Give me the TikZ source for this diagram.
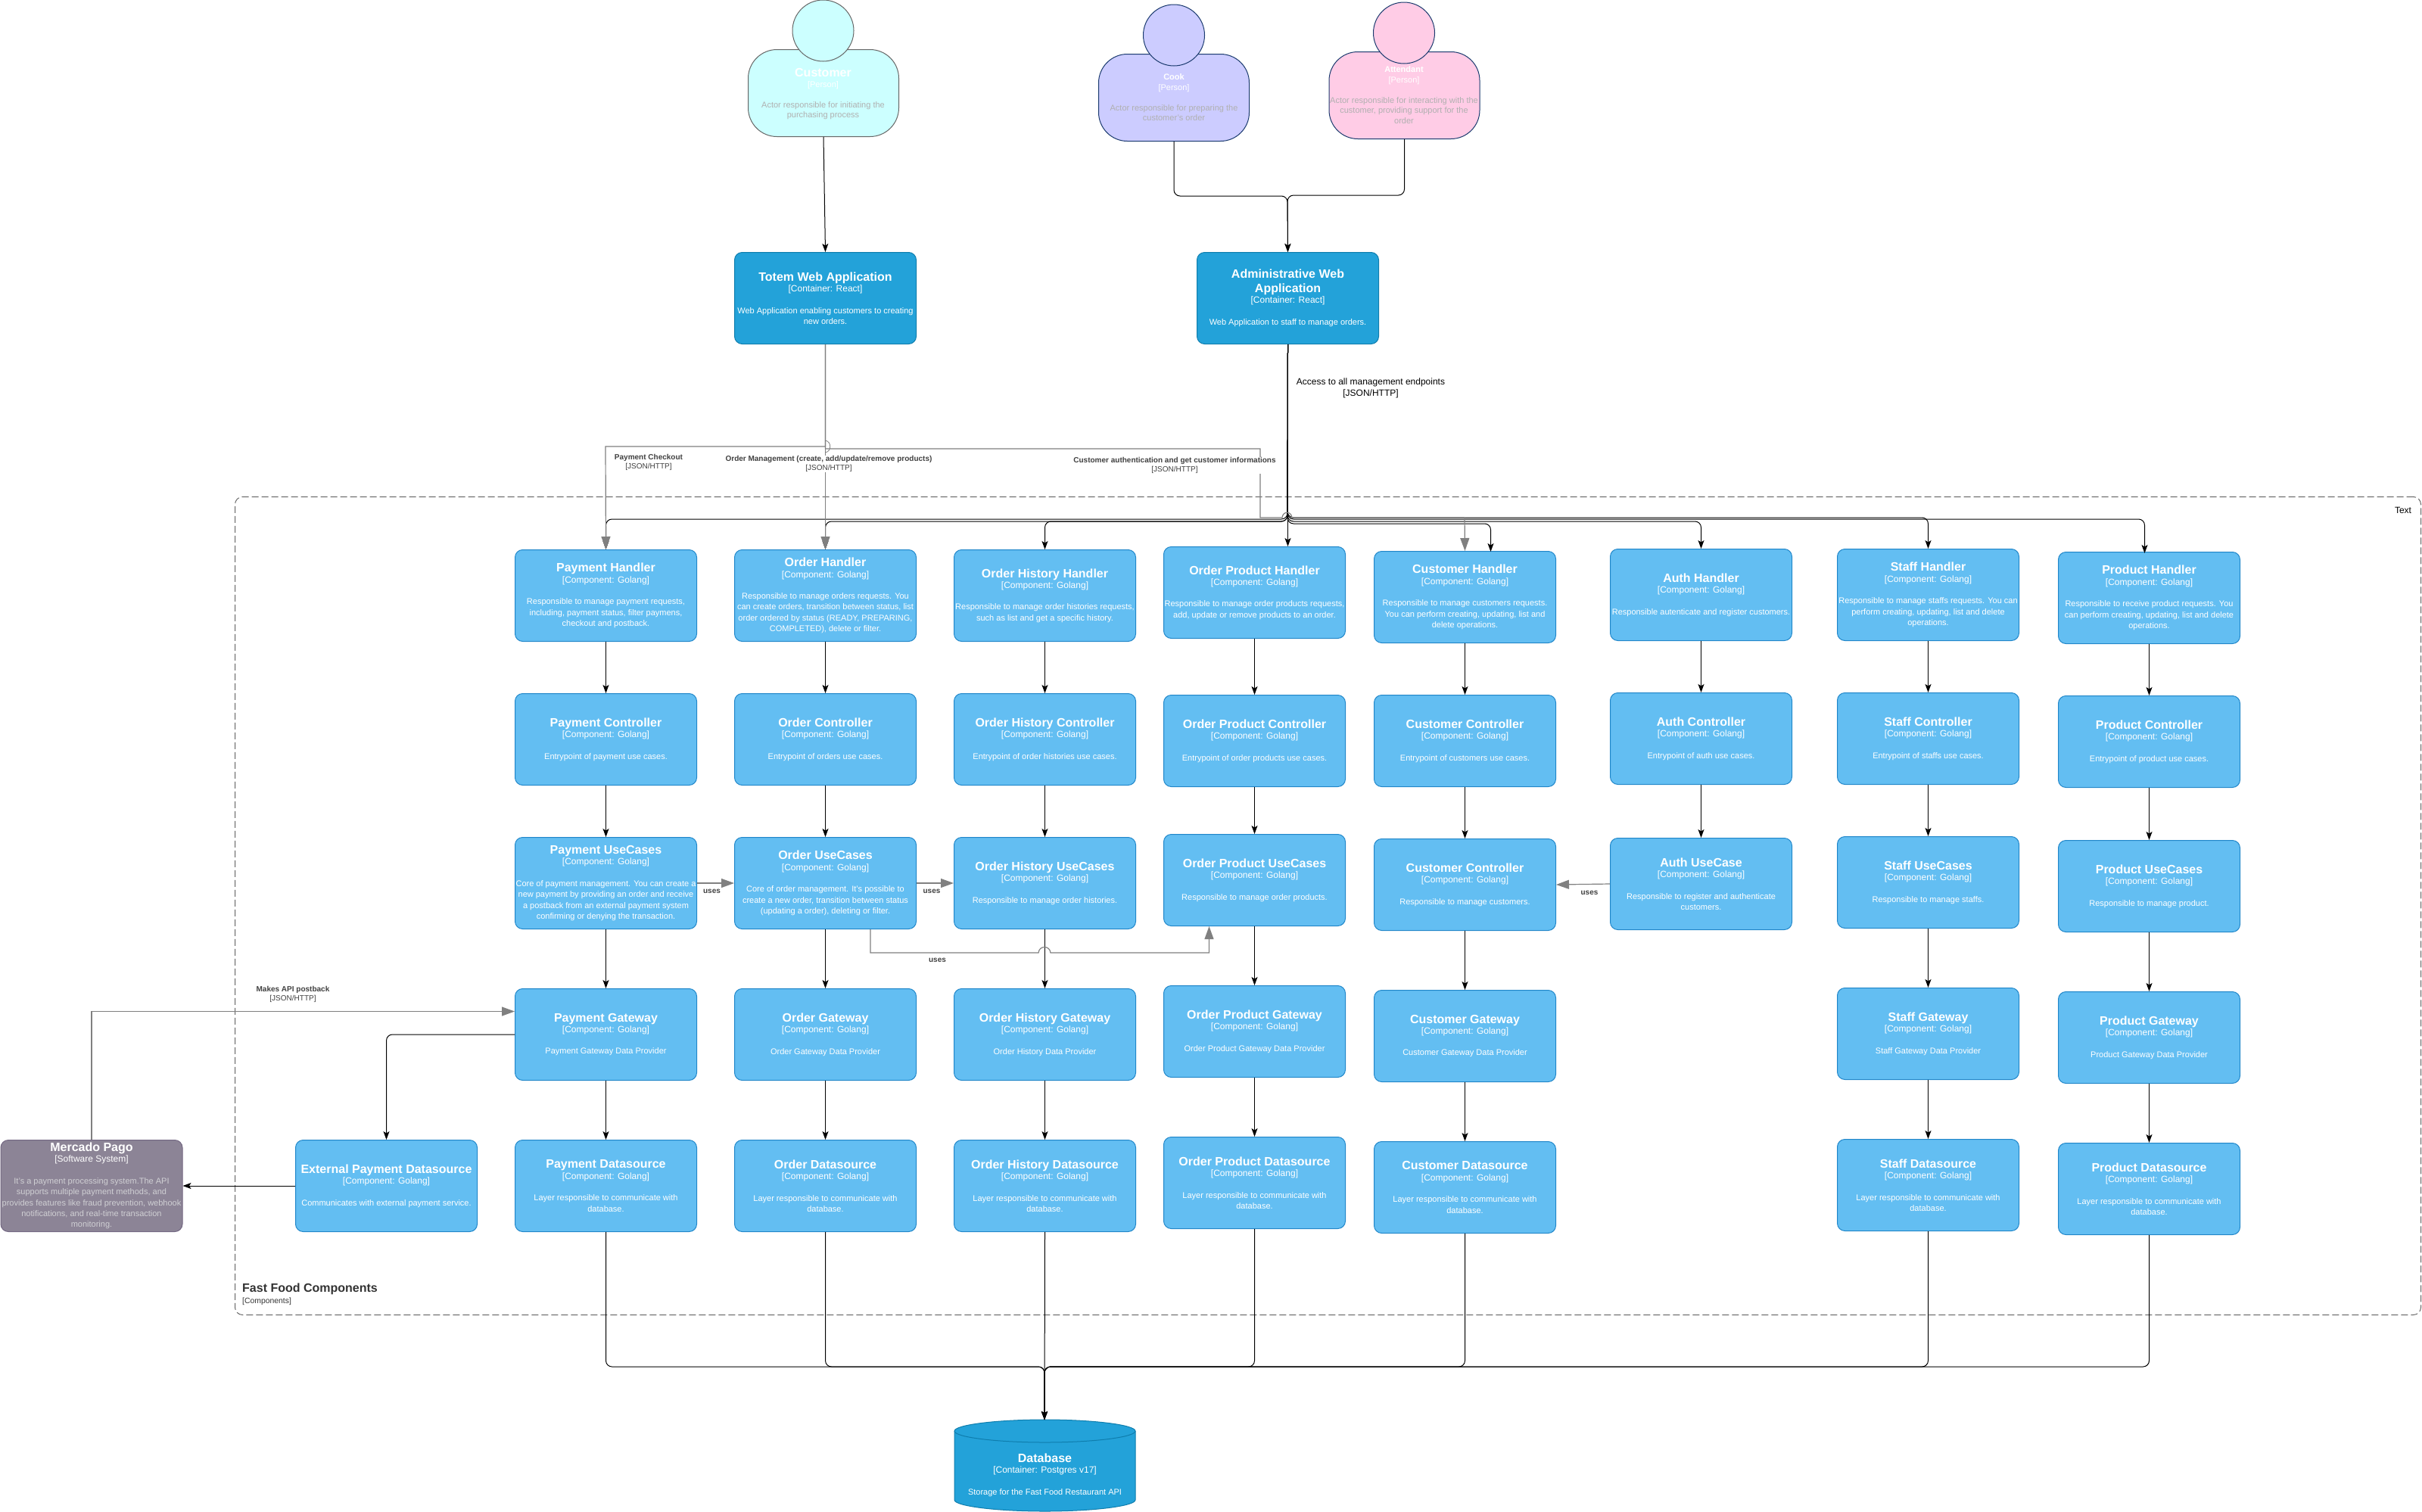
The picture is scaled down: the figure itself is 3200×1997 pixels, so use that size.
\documentclass[tikz,border=0pt]{standalone}
\usepackage{fontspec}
\setmainfont{Liberation Sans}
\usetikzlibrary{arrows.meta,calc}
\definecolor{compfill}{HTML}{63BEF2}
\definecolor{compline}{HTML}{2086C9}
\definecolor{contfill}{HTML}{23A2D9}
\definecolor{contline}{HTML}{0E7DAD}
\definecolor{extfill}{HTML}{8C8496}
\definecolor{extline}{HTML}{736782}
\definecolor{greyline}{HTML}{808080}
\definecolor{frameline}{HTML}{666666}
\definecolor{custfill}{HTML}{CCFFFF}
\definecolor{cookfill}{HTML}{CCCCFF}
\definecolor{attfill}{HTML}{FFCCE6}
\definecolor{navyline}{HTML}{1A3A6E}
\definecolor{persontext}{HTML}{B0B0B0}
\definecolor{labeltext}{HTML}{404040}
\definecolor{extbody}{HTML}{D0D0D4}
\newcommand{\cblock}[3]{\makebox[240pt]{\parbox{290pt}{\centering
  {\fontsize{16}{18.5}\selectfont\bfseries #1\par}%
  {\fontsize{12}{14.3}\selectfont #2\par}%
  \vspace{14.3pt}%
  {\fontsize{11}{14.3}\selectfont #3\par}}}}
\newcommand{\comp}[5]{\node[compbox] (#1) at (#2,#3) {\cblock{#4}{[Component: Golang]}{#5}};}
\newcommand{\plabel}[3]{\parbox{230pt}{\centering
  {\fontsize{#1}{15}\selectfont\bfseries #2\par}%
  {\fontsize{#3}{14}\selectfont [Person]\par}}}
\newcommand{\elabel}[2]{\textbf{#1}\\{}#2}
\tikzset{
  basebox/.style={rounded corners=10pt,line width=1pt,minimum width=240pt,minimum height=121pt,inner sep=0pt,anchor=north west,text=white},
  compbox/.style={basebox,draw=compline,fill=compfill},
  contbox/.style={basebox,draw=contline,fill=contfill},
  extbox/.style={basebox,draw=extline,fill=extfill},
  persbody/.style={rounded corners=38pt,line width=1pt,minimum width=199pt,minimum height=115pt,inner sep=0pt,anchor=north west},
  pershead/.style={circle,line width=1pt,minimum size=81pt,inner sep=0pt},
  conn/.style={draw=black,line width=1pt,-{Stealth[length=11pt,width=8pt,inset=2.5pt]}},
  gconn/.style={draw=greyline,line width=1.2pt,-{Triangle[length=17pt,width=12pt]}},
  gline/.style={draw=greyline,line width=1.2pt},
  elab/.style={fill=white,inner sep=1pt,align=center,text=labeltext,font=\fontsize{10}{11.5}\selectfont},
  plain/.style={inner sep=0pt,align=center}
}
\begin{document}
\begin{tikzpicture}[x=1pt,y=-1pt]
\useasboundingbox (0,0) rectangle (3200,1997);
% frame
\node[draw=frameline,line width=1pt,dash pattern=on 9pt off 4pt,rounded corners=10pt,minimum width=2888pt,minimum height=1081pt,anchor=north west,inner sep=0pt] (grp) at (310,656) {};
\node[plain,font=\fontsize{12}{14}\selectfont] (grpText) at (3175,674) {Text};
\node[plain,anchor=west,text=black!80,font=\fontsize{16}{18}\selectfont\bfseries] (grpTitle) at (320,1703) {Fast Food Components};
\node[plain,anchor=west,text=black!80,font=\fontsize{10.4}{12}\selectfont] (grpSub) at (320,1720) {[Components]};
% persons
\node[persbody,draw=black!60,fill=custfill] (custB) at (988,65) {};
\node[pershead,draw=black!60,fill=custfill] (custH0) at (1087.5,40.5) {};
\node[plain,text=white] (custT) at (1087.5,104) {\plabel{16}{Customer}{11}};
\node[plain,text=persontext,font=\fontsize{11}{13.5}\selectfont] (custD) at (1087.5,146) {Actor responsible for initiating the\\purchasing process};
\node[persbody,draw=navyline,fill=cookfill] (cookB) at (1451,71) {};
\node[pershead,draw=navyline,fill=cookfill] (cookH0) at (1551,46.5) {};
\node[plain,text=white] (cookT) at (1551,110) {\plabel{11}{Cook}{11}};
\node[plain,text=persontext,font=\fontsize{11}{13.5}\selectfont] (cookD) at (1551,149) {Actor responsible for preparing the\\customer's order};
\node[persbody,draw=navyline,fill=attfill] (attB) at (1755.5,68) {};
\node[pershead,draw=navyline,fill=attfill] (attH0) at (1855,43.5) {};
\node[plain,text=white] (attT) at (1855,100) {\plabel{11}{Attendant}{11}};
\node[plain,text=persontext,font=\fontsize{11}{13.2}\selectfont] (attD) at (1855,146) {Actor responsible for interacting with the\\customer, providing support for the\\order};
% containers
\node[contbox] (totem) at (970,333) {\cblock{Totem Web Application}{[Container: React]}{Web Application enabling customers to creating\\new orders.}};
\node[contbox] (admin) at (1581,333) {\cblock{Administrative Web\\Application}{[Container: React]}{Web Application to staff to manage orders.}};
% handlers
\comp{payH}{680}{726}{Payment Handler}{Responsible to manage payment requests,\\including, payment status, filter paymens,\\checkout and postback.}
\comp{ordH}{970}{726}{Order Handler}{Responsible to manage orders requests. You\\can create orders, transition between status, list\\order ordered by status (READY, PREPARING,\\COMPLETED), delete or filter.}
\comp{hisH}{1260}{726}{Order History Handler}{Responsible to manage order histories requests,\\such as list and get a specific history.}
\comp{opH}{1537}{722}{Order Product Handler}{Responsible to manage order products requests,\\add, update or remove products to an order.}
\comp{cusH}{1815}{728}{Customer Handler}{Responsible to manage customers requests.\\You can perform creating, updating, list and\\delete operations.}
\comp{autH}{2127}{725}{Auth Handler}{Responsible autenticate and register customers.}
\comp{staH}{2427}{725}{Staff Handler}{Responsible to manage staffs requests. You can\\perform creating, updating, list and delete\\operations.}
\comp{proH}{2719}{729}{Product Handler}{Responsible to receive product requests. You\\can perform creating, updating, list and delete\\operations.}
% controllers
\comp{payC}{680}{916}{Payment Controller}{Entrypoint of payment use cases.}
\comp{ordC}{970}{916}{Order Controller}{Entrypoint of orders use cases.}
\comp{hisC}{1260}{916}{Order History Controller}{Entrypoint of order histories use cases.}
\comp{opC}{1537}{918}{Order Product Controller}{Entrypoint of order products use cases.}
\comp{cusC}{1815}{918}{Customer Controller}{Entrypoint of customers use cases.}
\comp{autC}{2127}{915}{Auth Controller}{Entrypoint of auth use cases.}
\comp{staC}{2427}{915}{Staff Controller}{Entrypoint of staffs use cases.}
\comp{proC}{2719}{919}{Product Controller}{Entrypoint of product use cases.}
% use cases
\comp{payU}{680}{1106}{Payment UseCases}{Core of payment management. You can create a\\new payment by providing an order and receive\\a postback from an external payment system\\confirming or denying the transaction.}
\comp{ordU}{970}{1106}{Order UseCases}{Core of order management. It's possible to\\create a new order, transition between status\\(updating a order), deleting or filter.}
\comp{hisU}{1260}{1106}{Order History UseCases}{Responsible to manage order histories.}
\comp{opU}{1537}{1102}{Order Product UseCases}{Responsible to manage order products.}
\comp{cusU}{1815}{1108}{Customer Controller}{Responsible to manage customers.}
\comp{autU}{2127}{1107}{Auth UseCase}{Responsible to register and authenticate\\customers.}
\comp{staU}{2427}{1105}{Staff UseCases}{Responsible to manage staffs.}
\comp{proU}{2719}{1110}{Product UseCases}{Responsible to manage product.}
% gateways
\comp{payG}{680}{1306}{Payment Gateway}{Payment Gateway Data Provider}
\comp{ordG}{970}{1306}{Order Gateway}{Order Gateway Data Provider}
\comp{hisG}{1260}{1306}{Order History Gateway}{Order History Data Provider}
\comp{opG}{1537}{1302}{Order Product Gateway}{Order Product Gateway Data Provider}
\comp{cusG}{1815}{1308}{Customer Gateway}{Customer Gateway Data Provider}
\comp{staG}{2427}{1305}{Staff Gateway}{Staff Gateway Data Provider}
\comp{proG}{2719}{1310}{Product Gateway}{Product Gateway Data Provider}
% datasources
\comp{extD}{390}{1506}{External Payment Datasource}{Communicates with external payment service.}
\comp{payD}{680}{1506}{Payment Datasource}{Layer responsible to communicate with\\database.}
\comp{ordD}{970}{1506}{Order Datasource}{Layer responsible to communicate with\\database.}
\comp{hisD}{1260}{1506}{Order History Datasource}{Layer responsible to communicate with\\database.}
\comp{opD}{1537}{1502}{Order Product Datasource}{Layer responsible to communicate with\\database.}
\comp{cusD2}{1815}{1508}{Customer Datasource}{Layer responsible to communicate with\\database.}
\comp{staD}{2427}{1505}{Staff Datasource}{Layer responsible to communicate with\\database.}
\comp{proD}{2719}{1510}{Product Datasource}{Layer responsible to communicate with\\database.}
% Mercado Pago
\node[extbox] (mp) at (0.5,1506) {\cblock{Mercado Pago}{[Software System]}{\color{extbody}It's a payment processing system.The API\\supports multiple payment methods, and\\provides features like fraud prevention, webhook\\notifications, and real-time transaction\\monitoring.}};
% Database
\path[fill=contfill,draw=contline,line width=1pt] (1261,1891) .. controls (1261,1883) and (1315,1876) .. (1380.5,1876) .. controls (1446,1876) and (1500,1883) .. (1500,1891) -- (1500,1982) .. controls (1500,1990) and (1446,1997) .. (1380.5,1997) .. controls (1315,1997) and (1261,1990) .. (1261,1982) -- cycle;
\path[draw=contline,line width=1pt] (1261,1891) .. controls (1261,1899) and (1315,1906) .. (1380.5,1906) .. controls (1446,1906) and (1500,1899) .. (1500,1891);
\node[inner sep=0pt,text=white] (db) at (1380.5,1949) {\cblock{Database}{[Container: Postgres v17]}{Storage for the Fast Food Restaurant API}};
\coordinate (dbtop) at (1380,1876);
% bus coordinates
\coordinate (busD) at (1701,684);
\coordinate (busA) at (1701,686);
\coordinate (busB) at (1701,689);
\coordinate (busC) at (1701,692);
\coordinate (dbus) at (1380,1806);
\coordinate (mrg) at (1701,259);
% persons to containers
\draw[conn] (custB.south) -- (totem.north);
\draw[conn,rounded corners=8pt] (cookB.south) |- (mrg) -- (admin.north);
\draw[conn,rounded corners=8pt] (attB.south) |- ([yshift=1pt]mrg) -- (admin.north);
% admin fan-out
\draw[conn,rounded corners=8pt] (admin.south) -- (busA) -| (payH.north);
\draw[conn,rounded corners=8pt] (admin.south) -- (busB) -| (ordH.north);
\draw[conn,rounded corners=8pt] (admin.south) -- (busB) -| (hisH.north);
\draw[conn] (admin.south) -- (admin.south |- opH.north);
\draw[conn,rounded corners=8pt] (admin.south) -- (busC) -| ([xshift=34pt,yshift=-1pt]cusH.north);
\draw[conn,rounded corners=8pt] (admin.south) -- (busB) -| (autH.north);
\draw[conn,rounded corners=8pt] (admin.south) -- (busD) -| (staH.north);
\draw[conn,rounded corners=8pt] (admin.south) -- (busA) -| ([xshift=-6pt,yshift=-2pt]proH.north);
% totem fan-out
\draw[gconn] (totem.south) |- (800,590) -- (payH.north);
\draw[gconn] (totem.south) -- (ordH.north);
\coordinate (c1) at (1665,593);
\coordinate (c2) at (1665,684);
\draw[gline] (totem.south) |- (c1) -- (c2) -- (1694,684) .. controls (1695,675) and (1706,675) .. (1707,684) -- (1935,684);
\draw[gconn] (1935,684) -- (cusH.north);
\draw[greyline,line width=0.8pt] (1090,582) .. controls (1099,583) and (1099,597) .. (1090,598);
% verticals
\foreach \a/\b in {payH/payC,payC/payU,payU/payG,payG/payD,
  ordH/ordC,ordC/ordU,ordU/ordG,ordG/ordD,
  hisH/hisC,hisC/hisU,hisU/hisG,hisG/hisD,
  opH/opC,opC/opU,opU/opG,opG/opD,
  cusH/cusC,cusC/cusU,cusU/cusG,cusG/cusD2,
  autH/autC,autC/autU,
  staH/staC,staC/staU,staU/staG,staG/staD,
  proH/proC,proC/proU,proU/proG,proG/proD}
  \draw[conn] (\a.south) -- (\b.north);
% data sources to database
\foreach \a in {payD,ordD,opD,cusD2,staD,proD}
  \draw[conn,rounded corners=8pt] (\a.south) |- (dbus) -- (dbtop);
\draw[conn] (hisD.south) -- (dbtop);
% gateway and external
\draw[conn,rounded corners=8pt] (payG.west) -| (extD.north);
\draw[conn] (extD.west) -- (mp.east);
\draw[gconn] (mp.north) |- ([yshift=30.5pt]payG.west);
% uses arrows
\draw[gconn] (payU.east) -- (ordU.west);
\draw[gconn] (ordU.east) -- (hisU.west);
\draw[gconn] (autU.west) -- (cusU.east);
\coordinate (u1) at (1150,1259);
\coordinate (u2) at (1597.5,1259);
\draw[gconn] (u1 |- ordU.south) -- (u1) -- (1372,1259) .. controls (1373,1249) and (1387,1249) .. (1388,1259) -- (u2) -- (u2 |- opU.south);
\node[plain,text=labeltext,font=\fontsize{10}{12}\selectfont\bfseries] (uses1) at (940.5,1178) {uses};
\node[plain,text=labeltext,font=\fontsize{10}{12}\selectfont\bfseries] (uses2) at (1231,1178) {uses};
\node[plain,text=labeltext,font=\fontsize{10}{12}\selectfont\bfseries] (uses3) at (1238.5,1269) {uses};
\node[plain,text=labeltext,font=\fontsize{10}{12}\selectfont\bfseries] (uses4) at (2100,1180) {uses};
% connector labels
\node[elab] (lbPay) at (857,611) {\elabel{Payment Checkout}{[JSON/HTTP]}};
\node[elab] (lbOrd) at (1095,613) {\elabel{Order Management (create, add/update/remove products)}{[JSON/HTTP]}};
\node[elab] (lbCus) at (1552,615) {\elabel{Customer authentication and get customer informations}{[JSON/HTTP]}};
\node[elab] (lbApi) at (387,1314) {\elabel{Makes API postback}{[JSON/HTTP]}};
\node[plain,font=\fontsize{12}{15}\selectfont] (lbAdm) at (1811,512.5) {Access to all management endpoints\\{}[JSON/HTTP]};
\end{tikzpicture}
\end{document}
